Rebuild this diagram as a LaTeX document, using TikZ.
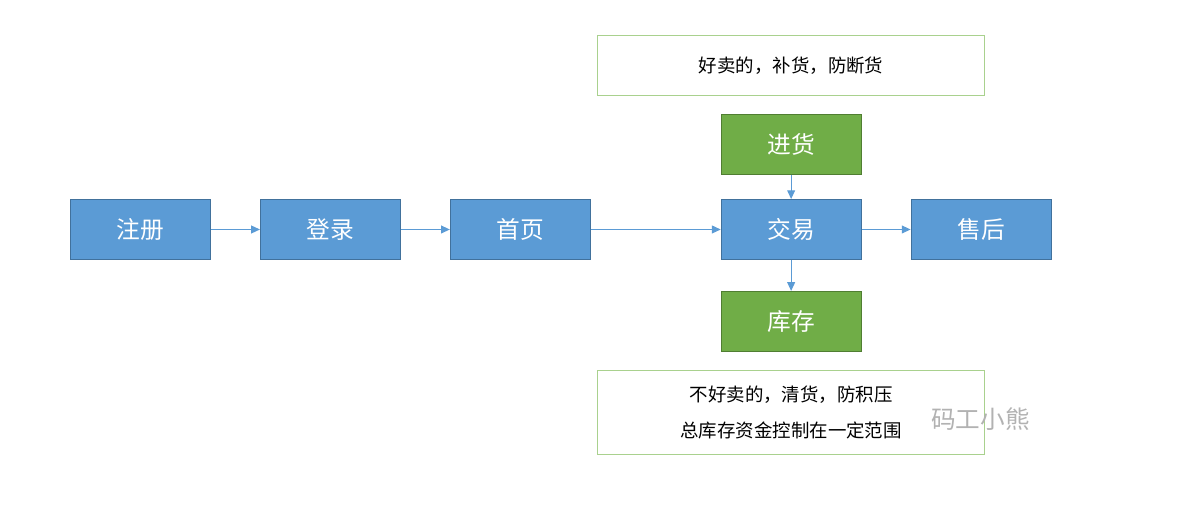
\documentclass[tikz,border=0pt]{standalone}
\usepackage{fontspec}
\setmainfont{Noto Sans CJK SC}
\usepackage{xcolor}
\usetikzlibrary{arrows.meta, positioning}
\definecolor{stepblue}{HTML}{5B9BD5}
\definecolor{stepblueline}{HTML}{41719C}
\definecolor{stepgreen}{HTML}{70AD47}
\definecolor{stepgreenline}{HTML}{507E32}
\definecolor{noteline}{HTML}{A9D18E}

\begin{document}
\begin{tikzpicture}[
  node distance=0.98cm,
  box/.style={rectangle, draw=stepblueline, fill=stepblue, text=white, minimum width=2.8cm,
              minimum height=1.2cm, align=center, font=\fontsize{13.5}{15}\selectfont, line width=0.5pt},
  gbox/.style={box, draw=stepgreenline, fill=stepgreen},
  note/.style={rectangle, draw=noteline, fill=white, minimum width=7.74cm, align=center,
               font=\fontsize{10.5}{20}\selectfont, line width=0.7pt},
  arrow/.style={-{Triangle[length=5pt, width=4.5pt]}, draw=stepblue, line width=0.6pt}]

  \useasboundingbox (0,0) rectangle (23.72,10.26);

  \node[box] (REG) at (2.81,5.67) {注册};
  \node[box, right=of REG] (LOGIN) {登录};
  \node[box, right=of LOGIN] (HOME) {首页};
  \node[box, right=2.6cm of HOME] (TRADE) {交易};
  \node[box, right=of TRADE] (AFTER) {售后};
  \node[gbox, above=0.48cm of TRADE] (BUY) {进货};
  \node[gbox, below=0.62cm of TRADE] (STOCK) {库存};
  \node[note, minimum height=1.2cm, above=0.36cm of BUY] (HOT) {好卖的，补货，防断货};
  \node[note, minimum height=1.68cm, below=0.36cm of STOCK] (COLD) {不好卖的，清货，防积压\\总库存资金控制在一定范围};

  % watermark
  \node[text=black!30, font=\fontsize{14}{16}\selectfont, anchor=west] (MARK) at (18.5,1.88) {码工小熊};

  \draw[arrow] (REG) -- (LOGIN);
  \draw[arrow] (LOGIN) -- (HOME);
  \draw[arrow] (HOME) -- (TRADE);
  \draw[arrow] (TRADE) -- (AFTER);
  \draw[arrow] (BUY) -- (TRADE);
  \draw[arrow] (TRADE) -- (STOCK);
\end{tikzpicture}
\end{document}
